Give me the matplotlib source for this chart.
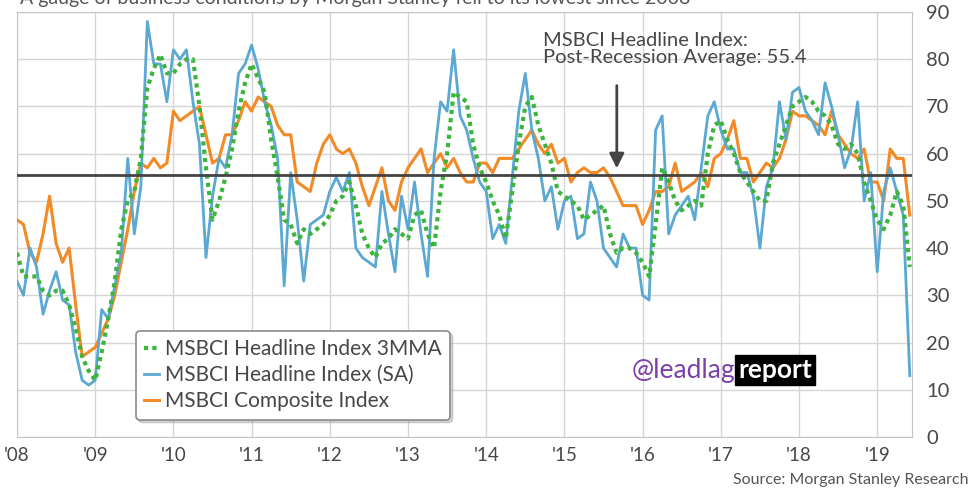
import numpy as np
from matplotlib import pyplot as plt

plt.rcParams['font.family'] = ['Lato', 'DejaVu Sans']

# Monthly values, Jan 2008 .. Jun 2019
headline_sa = [
    33, 30, 40, 36, 26, 31, 35, 29, 28, 18, 12, 11,   # 2008
    12, 27, 25, 32, 39, 59, 43, 53, 88, 79, 79, 71,   # 2009
    82, 80, 82, 71, 62, 38, 51, 59, 57, 64, 77, 79,   # 2010
    83, 78, 71, 66, 59, 32, 56, 46, 33, 45, 46, 47,   # 2011
    52, 55, 52, 56, 40, 38, 37, 36, 52, 43, 35, 51,   # 2012
    44, 54, 43, 34, 59, 71, 69, 82, 68, 65, 59, 54,   # 2013
    52, 42, 45, 41, 55, 69, 77, 65, 59, 50, 53, 44,   # 2014
    50, 51, 42, 43, 54, 50, 40, 38, 36, 43, 40, 40,   # 2015
    30, 29, 65, 68, 43, 47, 49, 51, 46, 57, 68, 71,   # 2016
    65, 61, 61, 56, 56, 51, 40, 53, 57, 71, 63, 73,   # 2017
    74, 69, 67, 64, 75, 70, 64, 57, 61, 71, 50, 56,   # 2018
    35, 52, 57, 52, 47, 13,                           # 2019
]
headline_3mma = [
    39, 34, 34, 34, 31, 30, 31, 31, 28, 23, 17, 14,
    12, 18, 25, 33, 44, 50, 52, 59, 74, 78, 81, 77,
    77, 79, 80, 80, 70, 57, 46, 50, 55, 61, 69, 75,
    79, 76, 73, 63, 55, 46, 45, 41, 44, 43, 44, 45,
    47, 50, 51, 54, 49, 43, 40, 38, 41, 42, 44, 43,
    42, 47, 48, 43, 40, 52, 60, 73, 72, 71, 62, 57,
    54, 50, 47, 42, 52, 62, 70, 72, 66, 62, 58, 52,
    51, 50, 49, 46, 47, 48, 49, 43, 39, 40, 40, 39,
    37, 34, 45, 57, 54, 50, 48, 49, 50, 49, 60, 66,
    67, 63, 60, 56, 54, 52, 50, 50, 58, 62, 66, 70,
    71, 72, 71, 69, 68, 66, 62, 61, 62, 60, 54, 50,
    46, 44, 47, 52, 49, 36,
]
composite = [
    46, 45, 39, 37, 43, 51, 41, 37, 40, 28, 17, 18,
    19, 22, 25, 30, 37, 44, 52, 58, 57, 59, 57, 58,
    69, 67, 68, 69, 70, 64, 58, 59, 64, 64, 67, 71,
    69, 72, 71, 70, 66, 64, 64, 54, 53, 52, 58, 62,
    64, 61, 60, 61, 58, 53, 49, 53, 57, 50, 48, 54,
    57, 59, 61, 56, 58, 60, 57, 59, 56, 54, 54, 58,
    58, 56, 59, 59, 59, 61, 63, 65, 62, 60, 62, 58,
    59, 54, 56, 57, 56, 56, 57, 55, 52, 49, 49, 49,
    45, 48, 52, 52, 53, 58, 52, 53, 54, 56, 53, 59,
    60, 63, 67, 59, 59, 54, 56, 58, 57, 59, 63, 69,
    68, 68, 67, 66, 64, 69, 64, 62, 60, 59, 61, 54,
    54, 50, 61, 59, 59, 47,
]
years = list(range(2008, 2020))
year_labels = ["'%02d" % (y % 100) for y in years]
post_recession_avg = 55.4

t = 2008 + np.arange(len(headline_sa)) / 12.0

fig = plt.figure(figsize=(9.72, 4.9), dpi=100)
ax = fig.add_axes([17 / 972, 1 - 437 / 490, 895 / 972, 425 / 490])

c_blue = '#5ba8d2'
c_orange = '#f28a26'
c_green = '#3db43d'
txt = '#474747'

ax.plot(t, composite, color=c_orange, lw=2.2, label='MSBCI Composite Index', zorder=3)
ax.plot(t, headline_sa, color=c_blue, lw=2.0, label='MSBCI Headline Index (SA)', zorder=4)
ax.plot(t, headline_3mma, color=c_green, lw=3.0, ls=(0, (1, 1)),
        label='MSBCI Headline Index 3MMA', zorder=5)
ax.axhline(post_recession_avg, color='#444444', lw=2, zorder=6)

ax.set_xlim(2008, 2019.445)
ax.set_ylim(0, 90)
ax.set_xticks(years)
ax.set_xticklabels(year_labels)
ax.set_yticks(range(0, 91, 10))
ax.yaxis.tick_right()
ax.tick_params(axis='both', length=0, labelsize=13.5, labelcolor=txt)
ax.tick_params(axis='y', pad=10, labelsize=14.5)
ax.tick_params(axis='x', pad=7)
ax.grid(True, color='#d6d6d6', lw=1)
ax.set_axisbelow(True)
for s in ax.spines.values():
    s.set_color('#c4c4c4')

# annotation
ax.text(2014.73, 85.8, 'MSBCI Headline Index:\nPost-Recession Average: 55.4',
        fontsize=14.5, color=txt, va='top', ha='left', linespacing=1.02, zorder=7)
ax.annotate('', xy=(2015.67, 56.3), xytext=(2015.67, 75),
            arrowprops=dict(arrowstyle='-|>', color='#444444', lw=2, mutation_scale=22),
            zorder=7)

handles, labels = ax.get_legend_handles_labels()
order = [2, 1, 0]
leg = ax.legend([handles[i] for i in order], [labels[i] for i in order],
                loc='upper left', bbox_to_anchor=(0.121, 0.275), fontsize=15,
                handlelength=0.7, handletextpad=0.3, borderpad=0.4, labelspacing=0.3,
                frameon=True, fancybox=True, shadow={'color': '0.55', 'alpha': 0.35},
                framealpha=1, edgecolor='#8a8a8a')
for text in leg.get_texts():
    text.set_color(txt)
leg.get_frame().set_linewidth(1.2)
leg.set_zorder(8)

# watermark
fig.text(735 / 972, 1 - 378 / 490, '@leadlag', color='#7d3fa8', fontsize=19,
         ha='right', va='baseline')
fig.text(738 / 972, 1 - 378 / 490, 'report', color='white', fontsize=19, fontweight='bold',
         ha='left', va='baseline',
         bbox=dict(boxstyle='square,pad=0.12', facecolor='black', edgecolor='black'))

# cut-off title at top and source
fig.text(20 / 972, 1 - 4 / 490, 'A gauge of business conditions by Morgan Stanley fell to its lowest since 2008',
         fontsize=14, color='#555555', ha='left', va='baseline')
fig.text(968 / 972, 1 - 480 / 490, 'Source: Morgan Stanley Research', fontsize=11.5,
         color='#555555', ha='right', va='center')

fig.savefig('out.png', dpi=100)
